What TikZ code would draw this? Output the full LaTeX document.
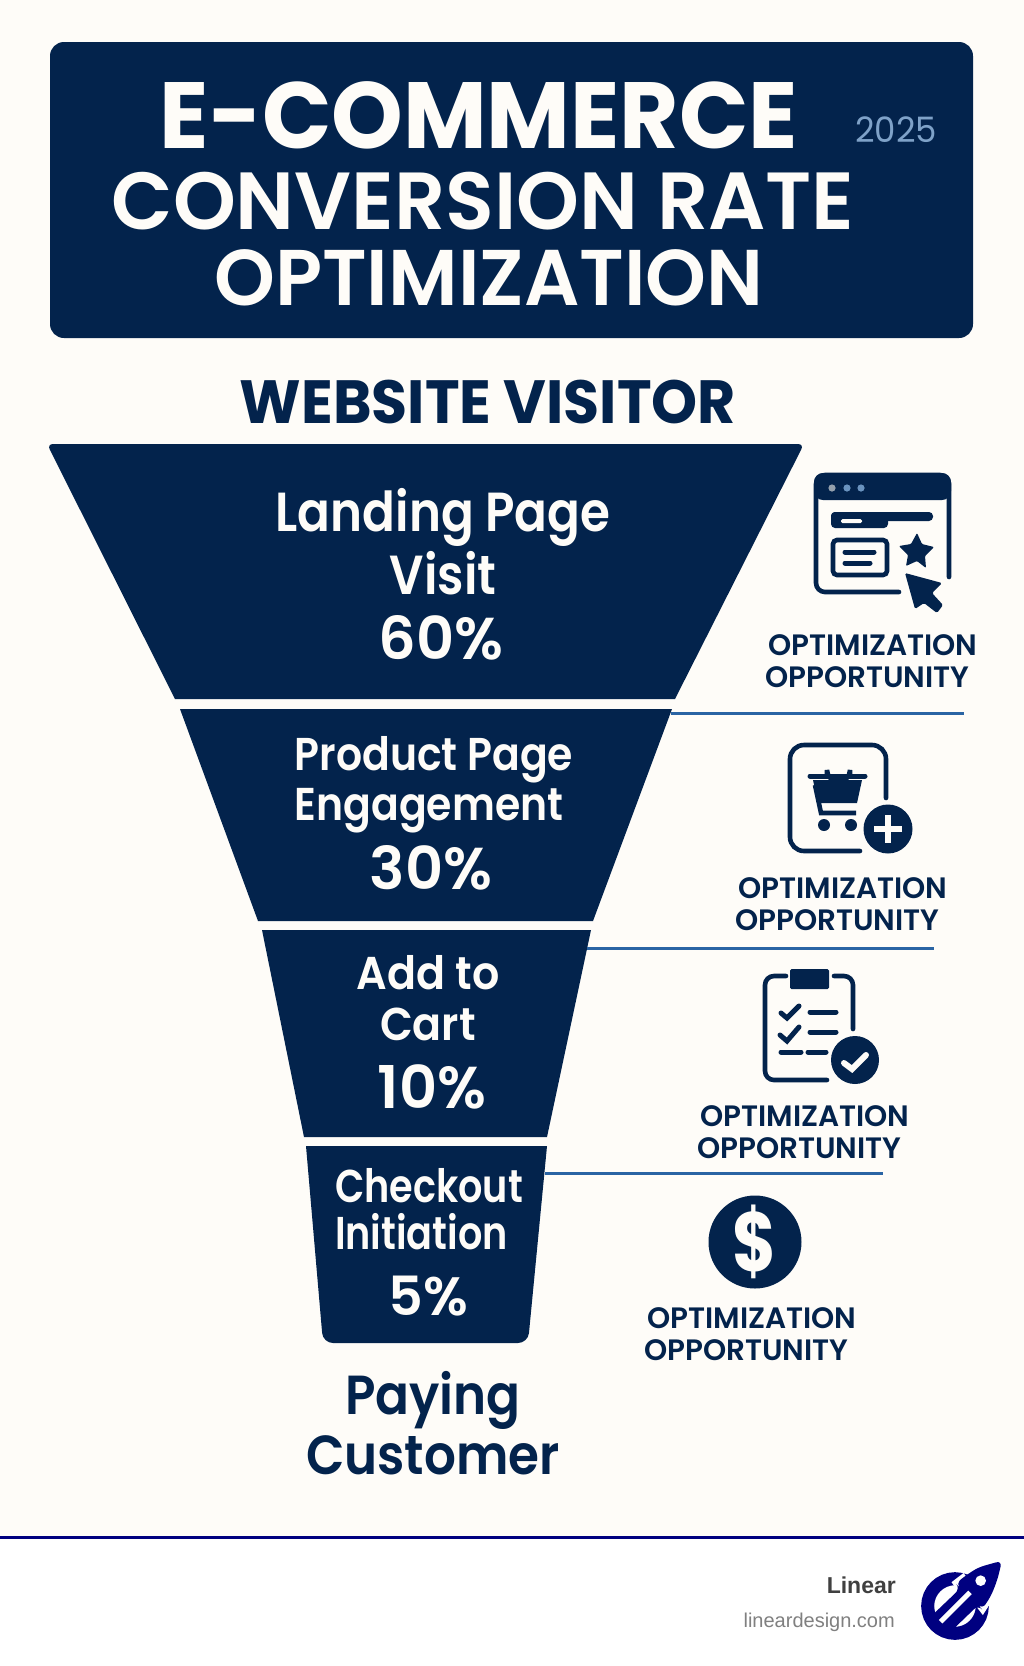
\documentclass[tikz,border=0pt]{standalone}
\usepackage{fontspec}
\setmainfont{Poppins}
\newfontfamily\semifont{Poppins SemiBold}
\newfontfamily\footfont{Liberation Sans}
\usetikzlibrary{positioning}
\definecolor{navy}{HTML}{03234C}
\definecolor{paper}{HTML}{FEFCF8}
\definecolor{ruleblue}{HTML}{2A64A4}
\definecolor{logoblue}{HTML}{000080}
\tikzset{
    step rule/.style={draw=ruleblue, line width=3pt},
    icon line/.style={draw=navy, line width=4.6pt, line cap=round, rounded corners=9pt},
    icon thin/.style={draw=navy, line width=5pt, line cap=round},
    badge/.style={fill=navy},
    tick/.style={draw=paper, line width=6pt, line cap=round},
    title text/.style={anchor=base, inner sep=0pt, text=paper, transform shape},
    funnel text/.style={anchor=base, inner sep=0pt, text=paper, align=center, transform shape},
    pct text/.style={anchor=base, inner sep=0pt, text=paper, font=\semifont\fontsize{59}{59}\selectfont},
    opp text/.style={anchor=base west, inner sep=0pt, text=navy, align=left,
        font=\semifont\fontsize{29.5}{32}\selectfont},
}
\begin{document}
\begin{tikzpicture}[x=1pt, y=-1pt]
            \useasboundingbox (0,0) rectangle (1024,1666);
            \fill[paper] (0,0) rectangle (1024,1666);
            \fill[white] (0,1537) rectangle (1024,1666);
            \draw[draw=logoblue, line width=3pt] (0,1537) -- (1024,1537);
            % header
            \fill[navy, rounded corners=14pt] (50,42) rectangle (973,338);
            \node[title text, font=\bfseries\fontsize{94}{94}\selectfont, xscale=0.97] (titleA) at (479,148) {E-COMMERCE};
            \node[title text, font=\semifont\fontsize{81}{81}\selectfont, xscale=0.988] (titleB) at (483,229) {CONVERSION RATE};
            \node[title text, font=\semifont\fontsize{79}{79}\selectfont, xscale=0.98] (titleC) at (489,305) {OPTIMIZATION};
            \node[anchor=base, inner sep=0pt, text=ruleblue!60!white, font=\fontsize{35}{35}\selectfont, xscale=0.97, transform shape] (year) at (896,142) {2025};
            \node[anchor=base, inner sep=0pt, text=navy, font=\bfseries\fontsize{61}{61}\selectfont, xscale=0.96, transform shape] (visitor) at (488,423) {WEBSITE VISITOR};
            % funnel
            \fill[navy] (175,699) [rounded corners=6pt] -- (47,444) -- (804,444) [sharp corners] -- (675,699) -- cycle;
            \fill[navy] (180,709) -- (672,709) -- (593,921) -- (258,921) -- cycle;
            \fill[navy] (262,930) -- (591,930) -- (547,1137) -- (304,1137) -- cycle;
            \fill[navy] (306,1146) -- (547,1146) [rounded corners=10pt] -- (528,1343) -- (323,1343) [sharp corners] -- cycle;
            \node[funnel text, font=\semifont\fontsize{55}{63}\selectfont, xscale=0.88] (landing) at (443,594) {Landing Page\\Visit};
            \node[pct text] (landingPct) at (441,659) {60\%};
            \node[funnel text, align=left, font=\semifont\fontsize{46}{50}\selectfont, xscale=0.89] (product) at (434,820) {Product Page\\Engagement};
            \node[pct text] (productPct) at (431,889) {30\%};
            \node[funnel text, font=\semifont\fontsize{46}{51}\selectfont, xscale=0.93] (cart) at (428,1040) {Add to\\Cart};
            \node[pct text] (cartPct) at (432,1108) {10\%};
            \node[funnel text, align=left, font=\semifont\fontsize{46}{47}\selectfont, xscale=0.83] (checkout) at (429,1249) {Checkout\\Initiation};
            \node[pct text, font=\semifont\fontsize{54}{54}\selectfont] (checkoutPct) at (428,1315) {5\%};
            \node[funnel text, text=navy, font=\semifont\fontsize{55}{60}\selectfont, xscale=0.91] (customer) at (433,1474) {Paying\\Customer};
            % rules
            \coordinate (ruleA) at (671,713);
            \coordinate (ruleAend) at (964,713);
            \coordinate (ruleB) at (587,948);
            \coordinate (ruleBend) at (934,948);
            \coordinate (ruleC) at (545,1173);
            \coordinate (ruleCend) at (883,1173);
            \draw[step rule] (ruleA) -- (ruleAend);
            \draw[step rule] (ruleB) -- (ruleBend);
            \draw[step rule] (ruleC) -- (ruleCend);
            % window icon
            \fill[navy, rounded corners=9pt] (814,500) -- (814,473) -- (951,473) -- (951,500) -- cycle;
            \draw[icon line] (949,577) -- (949,475) -- (816,475) -- (816,592) -- (899,592);
            \fill[ruleblue!30!gray!70!white] (832,488) circle (3.6);
            \fill[ruleblue!70!white] (847,488) circle (3.6);
            \fill[ruleblue!70!white] (861,488) circle (3.6);
            \fill[navy, rounded corners=4pt] (831,512) rectangle (933,521);
            \fill[navy, rounded corners=4pt] (831,512) rectangle (888,528);
            \fill[paper, rounded corners=1.5pt] (841,519) rectangle (862,523);
            \draw[draw=navy, line width=4.6pt, rounded corners=4pt] (833,540) rectangle (887,575);
            \draw[icon thin] (845,552) -- (874,552);
            \draw[icon thin] (845,563) -- (870,563);
            \fill[navy, rounded corners=1pt] (917,533) -- (922,544) -- (934,547) -- (925,556) -- (926,568) -- (917,561) -- (906,566) -- (908,555) -- (899,546) -- (911,544) -- cycle;
            \fill[navy, rounded corners=1.5pt] (905,573) -- (942,583) -- (932,593) -- (943,605) -- (937,613) -- (924,603) -- (915,609) -- cycle;
            \node[opp text] (oppA) at (765,687) {\hspace*{3pt}OPTIMIZATION\\OPPORTUNITY};
            % cart icon
            \draw[icon line, rounded corners=14pt] (886,798) -- (886,745) -- (790,745) -- (790,851) -- (860,851);
            \draw[draw=navy, line width=4.6pt, line cap=round] (827,775) -- (827,770) arc[start angle=180, end angle=0, radius=11.5] -- (850,775);
            \draw[icon thin] (810,776) -- (865,776);
            \fill[navy] (813,780) -- (862,780) -- (857,803) -- (818,803) -- cycle;
            \draw[draw=navy, line width=4.6pt] (815,785) -- (821,813) -- (856,813);
            \fill[navy] (824,825) circle (6);
            \fill[navy] (851,825) circle (6);
            \fill[badge] (888,829) circle (24.5);
            \draw[draw=paper, line width=6.5pt] (874,829) -- (902,829);
            \draw[draw=paper, line width=6.5pt] (888,815) -- (888,843);
            \node[opp text] (oppB) at (735,930) {\hspace*{3pt}OPTIMIZATION\\OPPORTUNITY};
            % clipboard icon
            \draw[icon line] (786,976) -- (765,976) -- (765,1080) -- (827,1080);
            \draw[icon line] (834,976) -- (853,976) -- (853,1029);
            \fill[navy, rounded corners=1.5pt] (790,969) rectangle (829,989);
            \draw[icon thin] (781,1013) -- (787,1018) -- (799,1006);
            \draw[icon thin] (780,1035) -- (787,1041) -- (799,1027);
            \draw[icon thin] (810,1012) -- (836,1012);
            \draw[icon thin] (810,1032) -- (836,1032);
            \draw[icon thin] (781,1052) -- (801,1052);
            \draw[icon thin] (808,1052) -- (826,1052);
            \fill[badge] (855,1060) circle (24);
            \draw[tick] (844,1063) -- (852,1069) -- (866,1055);
            \node[opp text] (oppC) at (697,1158) {\hspace*{3pt}OPTIMIZATION\\OPPORTUNITY};
            % dollar icon
            \fill[navy] (755,1242) circle (46.5);
            \node[inner sep=0pt, text=paper, font=\bfseries\fontsize{84}{84}\selectfont, xscale=0.8, transform shape] (dollar) at (755,1242) {\$};
            \node[opp text] (oppD) at (644,1360) {\hspace*{3pt}OPTIMIZATION\\OPPORTUNITY};
            % footer
            \node[anchor=base east, inner sep=0pt, text=black!75, font=\footfont\bfseries\fontsize{23}{23}\selectfont] (brand) at (896,1593) {Linear};
            \node[anchor=base east, inner sep=0pt, text=black!50, font=\footfont\fontsize{20}{20}\selectfont] (site) at (895,1627) {lineardesign.com};
            \begin{scope}[shift={(910,1550)}, scale=1/3]
                \draw[draw=logoblue, line width=13pt] (135,168) circle (82);
                \draw[draw=white, line width=5pt] (150,118) -- (135,98) -- (165,75);
                \draw[draw=white, line width=5pt] (205,165) -- (218,182) -- (245,140);
                \fill[logoblue, rounded corners=6pt] (276,32) -- (205,52) -- (165,78) -- (138,100) -- (150,116) -- (62,200) -- (122,245) -- (205,165) -- (216,178) -- (242,140) -- (262,90) -- cycle;
                \draw[draw=white, line width=5pt] (92,215) -- (180,127);
                \fill[white] (212,92) circle (16);
            \end{scope}
        \end{tikzpicture}
\end{document}
